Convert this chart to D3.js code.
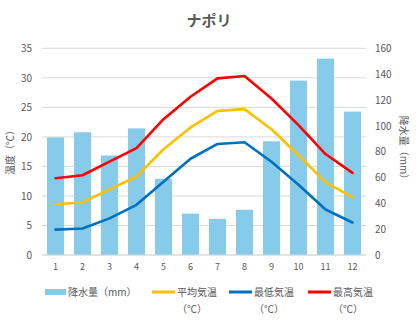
<!DOCTYPE html>
<html><head><meta charset="utf-8">
<script src="https://cdn.jsdelivr.net/npm/d3@7"></script>
<style>body{margin:0;background:#fff;} svg{display:block;font-family:"Noto Sans CJK JP","Noto Sans",sans-serif;}</style>
</head><body>
<script>
const months = ["1","2","3","4","5","6","7","8","9","10","11","12"];
const precip = [91, 95, 77, 98, 59, 32, 28, 35, 88, 135, 152, 111];
const avgTemp = [8.6, 8.9, 11.1, 13.3, 17.9, 21.6, 24.4, 24.7, 21.3, 16.9, 12.3, 9.8];
const minTemp = [4.3, 4.5, 6.2, 8.5, 12.4, 16.3, 18.8, 19.1, 15.8, 11.9, 7.7, 5.5];
const maxTemp = [13.0, 13.5, 15.8, 18.1, 23.0, 26.8, 29.9, 30.3, 26.5, 22.0, 17.1, 13.9];
const leftTicks = [0,5,10,15,20,25,30,35];
const rightTicks = [0,20,40,60,80,100,120,140,160];
const title = "ナポリ";
const seriesNames = ["降水量（mm）","平均気温（℃）","最低気温（℃）","最高気温（℃）"];

const W=419,H=322;
const svg=d3.select("body").append("svg").attr("width",W).attr("height",H);
const L=42,R=366,T=48.3,B=255;
const x=d3.scaleBand().domain(months).range([L,R]).paddingInner(0.37).paddingOuter(0.185);
const xp=d3.scalePoint().domain(months).range([L,R]).padding(0.5);
const yL=d3.scaleLinear().domain([0,35]).range([B,T]);
const yR=d3.scaleLinear().domain([0,160]).range([B,T]);
const txt="#595959";

// gridlines
svg.append("g").selectAll("line").data(leftTicks).join("line")
 .attr("x1",L).attr("x2",R).attr("y1",d=>yL(d)).attr("y2",d=>yL(d))
 .attr("stroke","#d9d9d9").attr("stroke-width",1);

// bars
svg.append("g").selectAll("rect").data(precip).join("rect")
 .attr("x",(d,i)=>x(months[i])).attr("width",x.bandwidth())
 .attr("y",d=>yR(d)).attr("height",d=>B-yR(d)).attr("fill","#87CBEA");

// lines
const lineSeries=[[avgTemp,"#FFC000"],[minTemp,"#0070C0"],[maxTemp,"#FF0000"]];
const line=d3.line().x((d,i)=>xp(months[i])).y(d=>yL(d));
lineSeries.forEach(([data,c])=>{
 svg.append("path").datum(data).attr("d",line).attr("fill","none")
  .attr("stroke",c).attr("stroke-width",2.6).attr("stroke-linejoin","round").attr("stroke-linecap","round");
});

// axes
const axL=d3.axisLeft(yL).tickValues(leftTicks).tickSize(0).tickPadding(10);
const gL=svg.append("g").attr("transform",`translate(${L},0)`).call(axL);
const axR=d3.axisRight(yR).tickValues(rightTicks).tickSize(0).tickPadding(9);
const gR=svg.append("g").attr("transform",`translate(${R},0)`).call(axR);
const axB=d3.axisBottom(x).tickSize(0).tickPadding(9);
const gB=svg.append("g").attr("transform",`translate(0,${B})`).call(axB);
[gL,gR,gB].forEach(g=>{g.select(".domain").remove();g.selectAll("text").attr("fill",txt).style("font-size","10px").style("font-family","'Noto Sans CJK JP',sans-serif");});
gB.selectAll("text").style("font-size","9px");
svg.append("line").attr("x1",L).attr("x2",R).attr("y1",B).attr("y2",B).attr("stroke","#d9d9d9");

// title
svg.append("text").attr("x",209).attr("y",26).attr("text-anchor","middle")
 .attr("fill",txt).style("font-size","15px").style("font-weight","bold").text(title);

// axis titles
svg.append("text").attr("transform","translate(14,150) rotate(-90)").attr("text-anchor","middle")
 .attr("fill",txt).style("font-size","10px").text("温度（℃）");
svg.append("text").attr("transform","translate(400,150) rotate(90)").attr("text-anchor","middle")
 .attr("fill",txt).style("font-size","10px").text("降水量（mm）");

// legend
const lg=svg.append("g").style("font-size","10px").attr("fill",txt);
const ly=292;
lg.append("rect").attr("x",45).attr("y",ly-3).attr("width",21).attr("height",6).attr("fill","#87CBEA");
lg.append("text").attr("x",68).attr("y",ly+4).text(seriesNames[0]);
const items=[[152,"#FFC000",seriesNames[1]],[229,"#0070C0",seriesNames[2]],[308,"#FF0000",seriesNames[3]]];
items.forEach(([lx,c,name])=>{
 lg.append("line").attr("x1",lx).attr("x2",lx+23).attr("y1",ly).attr("y2",ly).attr("stroke",c).attr("stroke-width",3);
 const main=name.replace("（℃）","");
 lg.append("text").attr("x",lx+25).attr("y",ly+4).text(main);
 lg.append("text").attr("x",lx+40).attr("y",ly+21).attr("text-anchor","middle").text("（℃）");
});
</script>
</body></html>
